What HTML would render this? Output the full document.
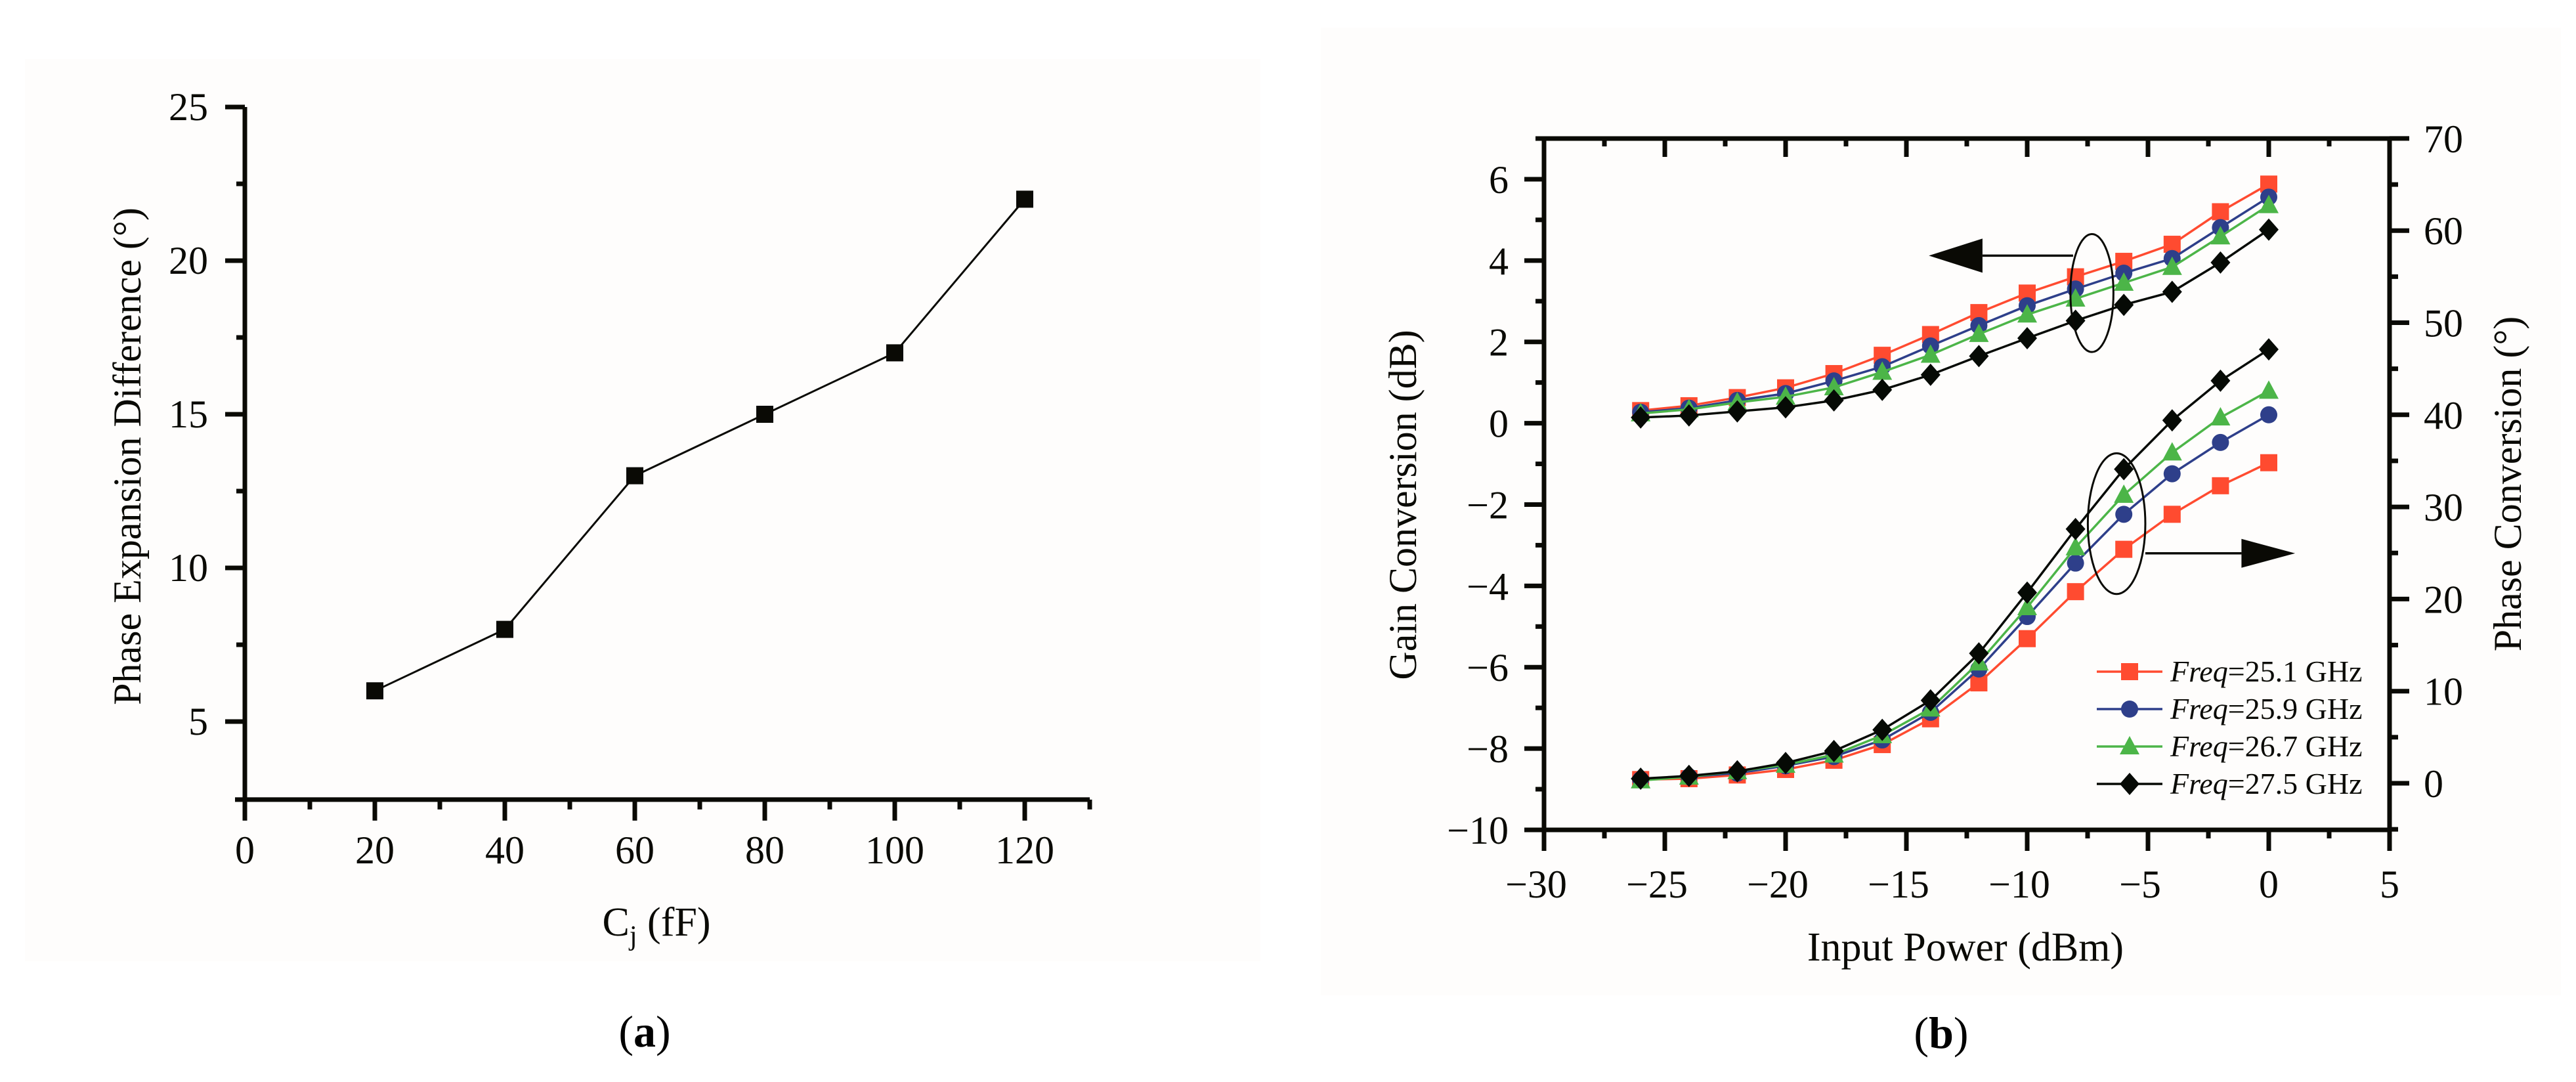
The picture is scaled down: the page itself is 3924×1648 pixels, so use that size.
<!DOCTYPE html>
<html><head><meta charset="utf-8"><style>
html,body{margin:0;padding:0;background:#fff;}
svg{display:block;font-family:"Liberation Serif",serif;}
</style></head><body>
<svg id="fig" width="3924" height="1648" viewBox="0 0 3924 1648" xmlns="http://www.w3.org/2000/svg">
<rect x="38" y="90" width="1882" height="1374" fill="#fefdfc"/>
<rect x="2012" y="42" width="1889" height="1474" fill="#fefdfc"/>
<g id="chartA"></g>
<g id="chartB"></g>
<text x="200" y="695" font-size="60" text-anchor="middle" dominant-baseline="middle" transform="rotate(-90 200 695)" fill="#0a0a05">Phase Expansion Difference (°)</text>
<text x="1000" y="1425" font-size="62" text-anchor="middle" fill="#0a0a05">C<tspan font-size="42" dy="14">j</tspan><tspan dy="-14"> (fF)</tspan></text>
<text x="982" y="1594" font-size="68" text-anchor="middle" fill="#000">(<tspan font-weight="bold">a</tspan>)</text>
<text x="2143" y="769" font-size="60" text-anchor="middle" dominant-baseline="middle" transform="rotate(-90 2143 769)" fill="#0a0a05">Gain Conversion (dB)</text>
<text x="3826" y="737" font-size="60" text-anchor="middle" dominant-baseline="middle" transform="rotate(-90 3826 737)" fill="#0a0a05">Phase Conversion (°)</text>
<text x="2994" y="1463" font-size="62" text-anchor="middle" fill="#0a0a05">Input Power (dBm)</text>
<text x="2957" y="1596" font-size="68" text-anchor="middle" fill="#000">(<tspan font-weight="bold">b</tspan>)</text>
</svg>
<script>
const NS="http://www.w3.org/2000/svg";
// Chart (a) data
const capValues=[20,40,60,80,100,120];
const phaseDiff=[6,8,13,15,17,22];
const aYTicks=[5,10,15,20,25];
const aXTicks=[0,20,40,60,80,100,120];
// Chart (b) data
const inputPower=[-26,-24,-22,-20,-18,-16,-14,-12,-10,-8,-6,-4,-2,0];
const freqLabels=["25.1","25.9","26.7","27.5"];
const gain251=[0.31,0.43,0.63,0.87,1.22,1.67,2.18,2.72,3.20,3.60,3.98,4.40,5.20,5.88];
const gain259=[0.27,0.37,0.56,0.73,1.04,1.39,1.90,2.40,2.89,3.30,3.69,4.05,4.81,5.56];
const gain267=[0.24,0.34,0.51,0.65,0.88,1.26,1.68,2.19,2.67,3.06,3.45,3.84,4.59,5.36];
const gain275=[0.14,0.19,0.29,0.39,0.56,0.82,1.19,1.65,2.09,2.52,2.91,3.23,3.95,4.76];
const phase251=[0.4,0.5,0.9,1.5,2.5,4.2,7.0,10.9,15.7,20.8,25.4,29.2,32.3,34.8];
const phase259=[0.4,0.7,1.1,1.9,2.9,4.7,7.7,12.4,18.1,23.9,29.2,33.6,37.0,40.0];
const phase267=[0.3,0.7,1.3,2.0,3.1,5.2,8.1,13.1,19.1,25.6,31.3,35.9,39.7,42.6];
const phase275=[0.5,0.8,1.3,2.2,3.5,5.8,9.0,14.1,20.7,27.6,34.1,39.4,43.7,47.1];
const bXTicks=[-30,-25,-20,-15,-10,-5,0,5];
const bLeftTicks=[-10,-8,-6,-4,-2,0,2,4,6];
const bRightTicks=[0,10,20,30,40,50,60,70];

function mk(parent,tag,attrs,text){const e=document.createElementNS(NS,tag);for(const k in attrs)e.setAttribute(k,attrs[k]);if(text!==undefined)e.textContent=text;parent.appendChild(e);return e;}
const INK="#0a0a05";

// ---- Chart A ----
const gA=document.getElementById('chartA');
const ax=v=>373+v*9.9, ay=v=>163+(25-v)*46.8;
{
 let s=mk(gA,'line',{x1:ax(0),y1:ay(25),x2:ax(0),y2:ay(2.46)+3.5,stroke:INK,'stroke-width':7});
 
 s=mk(gA,'line',{x1:ax(0)-15,y1:ay(2.46),x2:ax(130),y2:ay(2.46),stroke:INK,'stroke-width':7});
 
 aYTicks.forEach(v=>{
  const t=mk(gA,'line',{x1:ax(0)-30,y1:ay(v),x2:ax(0),y2:ay(v),stroke:INK,'stroke-width':7});
  
  const l=mk(gA,'text',{x:317,y:ay(v)+20,'font-size':60,'text-anchor':'end',fill:INK},String(v));
  
  if(v<25){const m=mk(gA,'line',{x1:ax(0)-13,y1:ay(v+2.5),x2:ax(0),y2:ay(v+2.5),stroke:INK,'stroke-width':7});
   }
 });
 aXTicks.forEach(v=>{
  const t=mk(gA,'line',{x1:ax(v),y1:ay(2.46),x2:ax(v),y2:ay(2.46)+32,stroke:INK,'stroke-width':7});
  
  const l=mk(gA,'text',{x:ax(v),y:1315,'font-size':60,'text-anchor':'middle',fill:INK},String(v));
  
  const m=mk(gA,'line',{x1:ax(v+10),y1:ay(2.46),x2:ax(v+10),y2:ay(2.46)+15,stroke:INK,'stroke-width':7});
  
 });
 const pl=mk(gA,'polyline',{points:capValues.map((c,i)=>ax(c)+','+ay(phaseDiff[i])).join(' '),fill:'none',stroke:INK,'stroke-width':3});
 
 capValues.forEach((c,i)=>{
  const r=mk(gA,'rect',{x:ax(c)-13,y:ay(phaseDiff[i])-13,width:26,height:26,fill:INK});
  
 });
}

// ---- Chart B ----
const gB=document.getElementById('chartB');
const bx=v=>2352+(v+30)*36.8, byL=v=>211+(7-v)*61.94, byR=v=>1193-v*14.03;
const L=bx(-30),R=bx(5),T=byL(7),B=byL(-10);
{
 [[L,T-3.5,L,B+3.5,'left-axis-b'],[R,T-3.5,R,B+3.5,'right-axis-b'],[L-3.5,T,R+3.5,T,'top-axis-b'],[L-3.5,B,R+3.5,B,'bottom-axis-b']].forEach(a=>{
  const s=mk(gB,'line',{x1:a[0],y1:a[1],x2:a[2],y2:a[3],stroke:INK,'stroke-width':7});
  
 });
 for(let v=-30;v<=5;v+=2.5){
  const major=(v%5===0);
  const t=mk(gB,'line',{x1:bx(v),y1:B,x2:bx(v),y2:B+(major?32:13),stroke:INK,'stroke-width':7});
  
  const t2=mk(gB,'line',{x1:bx(v),y1:T,x2:bx(v),y2:T+(major?28:12),stroke:INK,'stroke-width':7});
  
 }
 bXTicks.forEach(v=>{
  const l=mk(gB,'text',{x:bx(v)-(v<0?12:0),y:1367,'font-size':60,'text-anchor':'middle',fill:INK},v<0?'\u2212'+(-v):String(v));
  
 });
 for(let v=-10;v<=7;v++){
  const major=(v%2===0);
  const t=mk(gB,'line',{x1:L-(major?30:13),y1:byL(v),x2:L,y2:byL(v),stroke:INK,'stroke-width':7});
  
 }
 bLeftTicks.forEach(v=>{
  const l=mk(gB,'text',{x:2298,y:byL(v)+21,'font-size':60,'text-anchor':'end',fill:INK},v<0?'\u2212'+(-v):String(v));
  
 });
 for(let v=-5;v<=70;v+=5){
  const major=(v%10===0);
  const t=mk(gB,'line',{x1:R,y1:byR(v),x2:R+(major?30:13),y2:byR(v),stroke:INK,'stroke-width':7});
  
 }
 bRightTicks.forEach(v=>{
  const l=mk(gB,'text',{x:3692,y:byR(v)+21,'font-size':60,'text-anchor':'start',fill:INK},String(v));
  
 });

 const colors=['#ff4b30','#2e3f8a','#4cb548','#060a05'];
 const shapes=['square','circle','triangle','diamond'];
 const gains=[gain251,gain259,gain267,gain275];
 const phases=[phase251,phase259,phase267,phase275];
 function marker(g,shape,x,y,c){
  let m;
  if(shape==='square') m=mk(g,'rect',{x:x-13,y:y-13,width:26,height:26,fill:c});
  else if(shape==='circle') m=mk(g,'circle',{cx:x,cy:y,r:13,fill:c});
  else if(shape==='triangle') m=mk(g,'polygon',{points:`${x},${y-16} ${x-15},${y+12} ${x+15},${y+12}`,fill:c});
  else m=mk(g,'polygon',{points:`${x},${y-17} ${x+15},${y} ${x},${y+17} ${x-15},${y}`,fill:c});
  return m;
 }
 [phases,gains].forEach((set,si)=>{
  const yf=si===0?byR:byL;
  for(let k=0;k<4;k++){
   const vals=set[k];
   const pl=mk(gB,'polyline',{points:inputPower.map((p,i)=>bx(p)+','+yf(vals[i])).join(' '),fill:'none',stroke:colors[k],'stroke-width':3.5});
   
   
   inputPower.forEach((p,i)=>{
    const m=marker(gB,shapes[k],bx(p),yf(vals[i]),colors[k]);
    
    
   });
  }
 });
 // annotations
 let e=mk(gB,'ellipse',{cx:bx(-7.32),cy:byL(3.2),rx:0.89*36.8,ry:1.45*61.94,fill:'none',stroke:INK,'stroke-width':3});
 
 e=mk(gB,'ellipse',{cx:bx(-6.3),cy:byL(-2.47),rx:1.19*36.8,ry:1.73*61.94,fill:'none',stroke:INK,'stroke-width':3});
 
 let a=mk(gB,'line',{x1:bx(-8.1),y1:byL(4.12),x2:bx(-11.85),y2:byL(4.12),stroke:INK,'stroke-width':3.5});
 
 a=mk(gB,'polygon',{points:`${bx(-14.07)},${byL(4.12)} ${bx(-11.85)},${byL(4.12)-26} ${bx(-11.85)},${byL(4.12)+26}`,fill:INK});
 
 a=mk(gB,'line',{x1:bx(-5.11),y1:byL(-3.2),x2:bx(-1.13),y2:byL(-3.2),stroke:INK,'stroke-width':3.5});
 
 a=mk(gB,'polygon',{points:`${bx(1.09)},${byL(-3.2)} ${bx(-1.13)},${byL(-3.2)-22} ${bx(-1.13)},${byL(-3.2)+22}`,fill:INK});
 
 // legend
 const rowsY=[1023,1080,1137,1194];
 for(let k=0;k<4;k++){
  const y=rowsY[k];
  const ln=mk(gB,'line',{x1:3194,y1:y,x2:3294,y2:y,stroke:colors[k],'stroke-width':3.5});
  
  const m=marker(gB,shapes[k],3244,y,colors[k]);
  
  const t=mk(gB,'text',{x:3306,y:y+15,'font-size':46,fill:INK});
  
  mk(t,'tspan',{'font-style':'italic'},'Freq');
  mk(t,'tspan',{},'='+freqLabels[k]+' GHz');
 }
}
</script>
</body></html>
